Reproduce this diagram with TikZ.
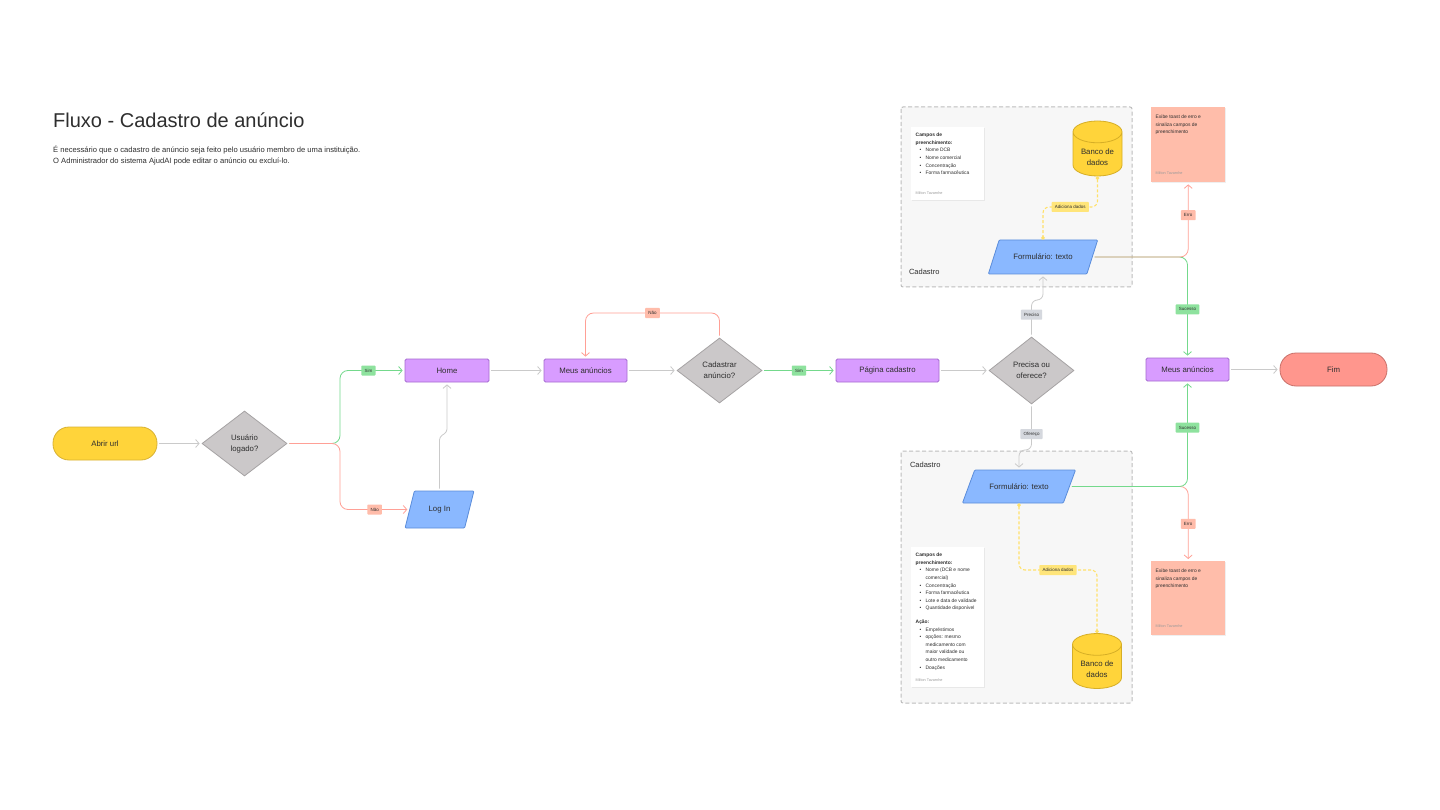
\documentclass[tikz,border=0pt]{standalone}
\usepackage{fontspec}
\setmainfont{Liberation Sans}
\usetikzlibrary{shapes.geometric, arrows.meta, shadows}

\definecolor{ink}{HTML}{2E2E2E}
\definecolor{startfill}{HTML}{FFD43A}
\definecolor{startline}{HTML}{D8B233}
\definecolor{askfill}{HTML}{CBC8C9}
\definecolor{askline}{HTML}{A6A3A4}
\definecolor{pagefill}{HTML}{D89CFF}
\definecolor{pageline}{HTML}{A56BD1}
\definecolor{formfill}{HTML}{8AB8FF}
\definecolor{formline}{HTML}{5A8CDA}
\definecolor{endfill}{HTML}{FF968D}
\definecolor{endline}{HTML}{C9716A}
\definecolor{dbfill}{HTML}{FFD43A}
\definecolor{dbline}{HTML}{D6AE26}
\definecolor{errfill}{HTML}{FFBDAA}
\definecolor{groupfill}{HTML}{F7F7F7}
\definecolor{groupline}{HTML}{BDBDBD}
\definecolor{greyline}{HTML}{CACACA}
\definecolor{greenline}{HTML}{74D98C}
\definecolor{redline}{HTML}{FFA096}
\definecolor{yellowline}{HTML}{FFE16A}
\definecolor{greentag}{HTML}{8EE29E}
\definecolor{redtag}{HTML}{FFBCAA}
\definecolor{greytag}{HTML}{D5D8DE}
\definecolor{yellowtag}{HTML}{FFE57A}
\definecolor{signgrey}{HTML}{9A9A9A}

\newcommand{\noteitem}[1]{\par\noindent\hangindent=10pt\hspace*{4pt}\makebox[6pt][l]{\textbullet}#1}
\newcommand{\signature}{\par\vfill{\color{signgrey}\fontsize{3.8}{4}\selectfont Milton Tavarnhe}}

\begin{document}
\begin{tikzpicture}[x=1pt, y=-1pt,
    every node/.style={font=\fontsize{7.8}{11}\selectfont, text=ink},
    terminal/.style={rectangle, rounded corners=16pt, minimum height=33pt, line width=0.8pt},
    decision/.style={diamond, draw=askline, fill=askfill, minimum width=85pt, minimum height=65pt, inner sep=0pt, align=center, line width=0.8pt},
    page/.style={rectangle, draw=pageline, fill=pagefill, minimum height=23pt, rounded corners=1.5pt, line width=0.8pt},
    form/.style={trapezium, trapezium stretches=true, draw=formline, fill=formfill, minimum height=34pt, rounded corners=1pt, line width=0.8pt},
    store/.style={cylinder, shape border rotate=90, aspect=0.55, anchor=shape center, draw=dbline, fill=dbfill, minimum width=49pt, minimum height=55pt, align=center, line width=0.8pt},
    group/.style={draw=groupline, fill=groupfill, dash pattern=on 4pt off 2.5pt, line width=1pt, rounded corners=2pt},
    note/.style={anchor=north west, fill=white, inner xsep=4.5pt, inner ysep=6pt, drop shadow={opacity=0.12, shadow xshift=0.6pt, shadow yshift=-1.2pt}, font=\fontsize{4.9}{7.6}\selectfont},
    alert/.style={note, fill=errfill, inner ysep=8pt},
    tag/.style={font=\fontsize{4.5}{5}\selectfont, inner xsep=3.2pt, inner ysep=2pt, minimum height=10pt, rounded corners=0.8pt, text=ink},
    tagok/.style={tag, fill=greentag},
    tagerr/.style={tag, fill=redtag},
    tagask/.style={tag, fill=greytag},
    tagdb/.style={tag, fill=yellowtag},
    flow/.style={draw=greyline, line width=0.8pt, shorten <=2pt, shorten >=2pt, -{Straight Barb[length=3.5pt, width=8pt]}},
    yes/.style={flow, draw=greenline},
    no/.style={flow, draw=redline},
    feed/.style={draw=yellowline, line width=1.1pt, dash pattern=on 3pt off 2pt, {Circle[length=3.5pt]}-{Circle[length=3.5pt]}}]

  \fill[white] (0,0) rectangle (1440,810);
  \useasboundingbox (0,0) rectangle (1440,810);

  % title
  \node[anchor=base west, inner sep=0pt, font=\fontsize{20}{24}\selectfont] (titulo) at (53,128) {Fluxo - Cadastro de anúncio};
  \node[anchor=north west, inner sep=0pt, align=left, font=\fontsize{7.6}{11}\selectfont] (descricao) at (53,145.5) {É necessário que o cadastro de anúncio seja feito pelo usuário membro de uma instituição.\\O Administrador do sistema AjudAI pode editar o anúncio ou excluí-lo.};

  % groups
  \draw[group] (901,107) rectangle (1132,287);
  \draw[group] (901,451) rectangle (1132,703);
  \node[anchor=west, font=\fontsize{7.5}{9}\selectfont] (grupoa) at (905.5,272) {Cadastro};
  \node[anchor=west, font=\fontsize{7.5}{9}\selectfont] (grupob) at (906.5,465) {Cadastro};

  % main flow
  \node[terminal, draw=startline, fill=startfill, minimum width=104pt] (abrir) at (105,443.5) {Abrir url};
  \node[decision] (logado) at (244.5,443.5) {Usuário\\logado?};
  \node[page, minimum width=84pt] (home) at (447,370.5) {Home};
  \node[form, trapezium left angle=69, trapezium right angle=111, minimum width=69pt, minimum height=37pt] (login) at (439.5,509.5) {Log In};
  \node[page, minimum width=83pt] (meus) at (585.5,370.5) {Meus anúncios};
  \node[decision] (cadastrar) at (719.5,370.5) {Cadastrar\\anúncio?};
  \node[page, minimum width=103pt] (pagina) at (887.5,370.5) {Página cadastro};
  \node[decision, minimum height=67pt] (precisa) at (1031.5,370.5) {Precisa ou\\oferece?};
  \node[page, minimum width=83pt] (lista) at (1187.5,369.5) {Meus anúncios};
  \node[terminal, draw=endline, fill=endfill, minimum width=107pt] (fim) at (1333.5,369.5) {Fim};

  % top group
  \node[note] (camposa) at (911,127) {\parbox[t][61pt][t]{64pt}{\raggedright
    \textbf{Campos de\\preenchimento:}
    \noteitem{Nome DCB}\noteitem{Nome comercial}\noteitem{Concentração}\noteitem{Forma farmacêutica}
    \signature}};
  \node[store] (bancoa) at (1097.5,148.5) {Banco de\\dados};
  \node[form, trapezium left angle=57, trapezium right angle=123, minimum width=110pt] (forma) at (1043,257) {Formulário: texto};
  \node[alert] (erroa) at (1151,107) {\parbox[t][59pt][t]{65pt}{\raggedright
    Exibe toast de erro e\\sinaliza campos de\\preenchimento
    \signature}};

  % bottom group
  \node[form, trapezium left angle=54, trapezium right angle=126, minimum width=114pt, minimum height=33pt] (formb) at (1019,486.5) {Formulário: texto};
  \node[note] (camposb) at (911,547) {\parbox[t][128pt][t]{64pt}{\raggedright
    \textbf{Campos de\\preenchimento:}
    \noteitem{Nome (DCB e nome\newline comercial)}\noteitem{Concentração}\noteitem{Forma farmacêutica}
    \noteitem{Lote e data de validade}\noteitem{Quantidade disponível}
    \par\vspace{6pt}\textbf{Ação:}
    \noteitem{Empréstimos}\noteitem{opções: mesmo\newline medicamento com\newline maior validade ou\newline outro medicamento}\noteitem{Doações}
    \signature}};
  \node[store] (bancob) at (1097,661) {Banco de\\dados};
  \node[alert] (errob) at (1151,561) {\parbox[t][58pt][t]{65pt}{\raggedright
    Exibe toast de erro e\\sinaliza campos de\\preenchimento
    \signature}};

  % connectors
  \path[flow]
    (abrir) edge (logado)
    (home) edge (meus)
    (meus) edge (cadastrar)
    (pagina) edge (precisa)
    (lista) edge (fim);

  \draw[yes, rounded corners=8pt] (logado.east) -- (340,443.5) |- node[pos=0.72, tagok] {Sim} (home.west);
  \draw[no, rounded corners=8pt] (logado.east) -- (340,443.5) |- node[pos=0.75, tagerr] {Não} (login.west);
  \draw[flow, rounded corners=3pt] (login.north) -- (439.5,437) -- (447,432) -- (home.south);

  \draw[no, rounded corners=8pt] (cadastrar.north) |- node[pos=0.75, tagerr] {Não} (585.5,313) -- (meus.north);
  \draw[yes] (cadastrar) -- node[tagok] {Sim} (pagina);

  \draw[flow, rounded corners=6pt] (precisa.north) -- node[pos=0.6, tagask] {Preciso} (1031.5,300) -| (forma.south);
  \draw[flow, rounded corners=6pt] (precisa.south) -- node[pos=0.65, tagask] {Ofereço} (1031.5,450) -| (formb.north);

  \draw[yes, rounded corners=8pt] (forma.east) -| node[pos=0.76, tagok] {Sucesso} (lista.north);
  \draw[no, rounded corners=8pt] (forma.east) -| node[pos=0.78, tagerr] {Erro} (erroa.south);
  \draw[no, rounded corners=8pt] (formb.east) -| node[pos=0.75, tagerr] {Erro} (errob.north);
  \draw[yes, rounded corners=8pt] (formb.east) -| node[pos=0.78, tagok] {Sucesso} (lista.south);

  \draw[feed, rounded corners=6pt] (bancoa.south) |- node[pos=0.75, tagdb] {Adiciona dados} (1043,207) -- (forma.north);
  \draw[feed, rounded corners=6pt] (formb.south) |- node[pos=0.75, tagdb] {Adiciona dados} (1097,570) -- (bancob.north);

\end{tikzpicture}
\end{document}
